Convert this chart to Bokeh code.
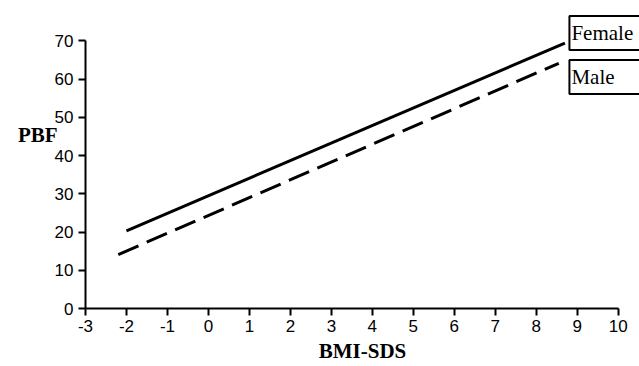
from bokeh.plotting import figure
from bokeh.models import Label, Range1d, FixedTicker
from bokeh.embed import file_html
from bokeh.resources import INLINE

# Data
female_x = [-2.0, 8.7]
female_y = [20.3, 69.4]
male_x = [-2.2, 8.55]
male_y = [14.1, 64.1]
x_ticks = [-3, -2, -1, 0, 1, 2, 3, 4, 5, 6, 7, 8, 9, 10]
y_ticks = [0, 10, 20, 30, 40, 50, 60, 70]
series_names = ["Female", "Male"]

p = figure(width=639, height=366, output_backend="svg", toolbar_location=None,
           x_range=Range1d(-3, 10.52), y_range=Range1d(0, 80),
           min_border_left=85, min_border_right=0, min_border_top=2, min_border_bottom=58)
p.outline_line_color = None
p.xgrid.visible = False
p.ygrid.visible = False
p.background_fill_color = "white"
p.border_fill_color = "white"

p.line(female_x, female_y, line_color="black", line_width=3)
p.line(male_x, male_y, line_color="black", line_width=3, line_dash="22 9")

for ax, ticks in ((p.xaxis, x_ticks), (p.yaxis, y_ticks)):
    ax.ticker = FixedTicker(ticks=ticks)
    ax.major_label_overrides = {t: str(t) for t in ticks}
    ax.minor_tick_line_color = None
    ax.major_tick_in = 0
    ax.major_tick_out = 7
    ax.axis_line_width = 2
    ax.major_tick_line_width = 2
    ax.axis_line_color = "black"
    ax.major_tick_line_color = "black"
    ax.major_label_text_font = "Liberation Sans"
    ax.major_label_text_font_size = "17px"
    ax.major_label_text_color = "black"

p.xaxis.bounds = (x_ticks[0], x_ticks[-1])
p.yaxis.bounds = (y_ticks[0], y_ticks[-1])
p.yaxis.major_label_standoff = 5
p.xaxis.major_label_standoff = 4

p.xaxis.axis_label = "BMI-SDS"
p.xaxis.axis_label_text_font = "Liberation Serif"
p.xaxis.axis_label_text_font_style = "bold"
p.xaxis.axis_label_text_font_size = "21px"
p.xaxis.axis_label_text_color = "black"
p.xaxis.axis_label_standoff = 4

p.yaxis.axis_label = "PBF\n"
p.yaxis.axis_label_orientation = "horizontal"
p.yaxis.axis_label_text_font = "Liberation Serif"
p.yaxis.axis_label_text_font_style = "bold"
p.yaxis.axis_label_text_font_size = "21px"
p.yaxis.axis_label_text_line_height = 1.7
p.yaxis.axis_label_text_color = "black"
p.yaxis.axis_label_standoff = -6

for name, ytop in ((series_names[0], 76.5), (series_names[1], 65.0)):
    p.add_layout(Label(x=8.81, y=ytop, text=name, text_font="Liberation Serif",
                       text_font_size="21px", text_color="black", text_baseline="top",
                       text_align="left", border_line_color="black", border_line_width=2,
                       background_fill_color="white",
                       padding=dict(left=2, right=30, top=5, bottom=5)))

open("out.html", "w").write(file_html(p, INLINE))
